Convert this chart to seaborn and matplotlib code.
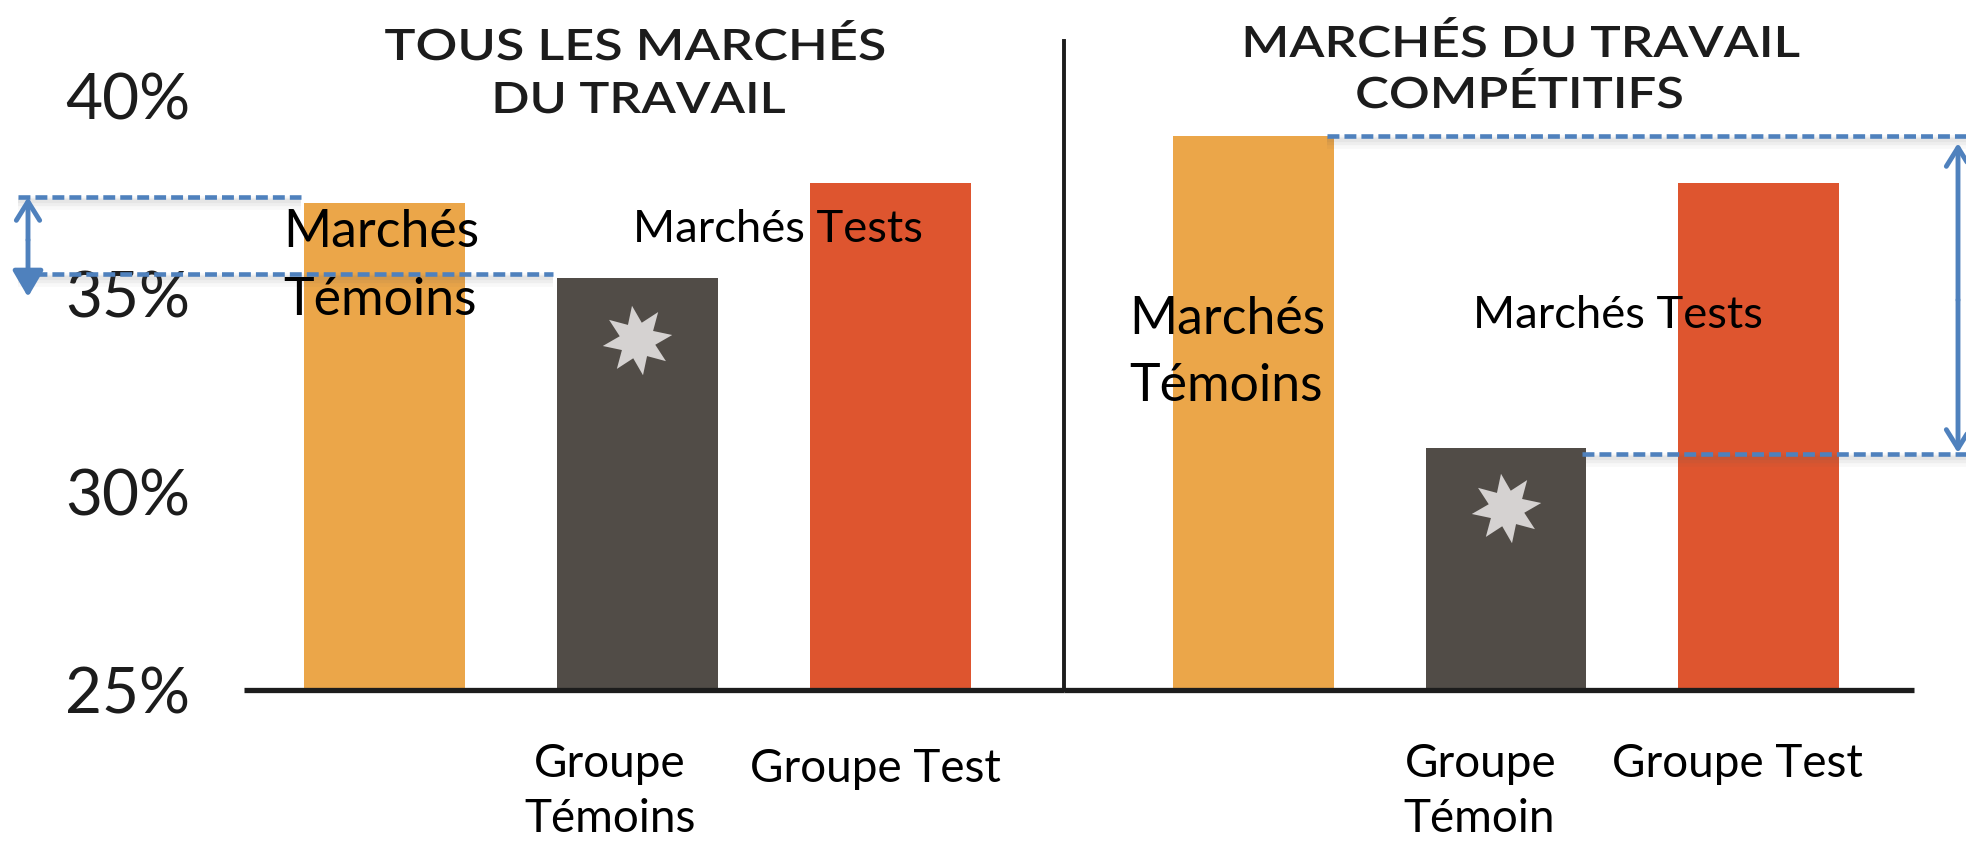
import matplotlib
matplotlib.use("Agg")
import matplotlib.pyplot as plt
from matplotlib.path import Path
from matplotlib.patheffects import AbstractPathEffect
from matplotlib.transforms import Affine2D
import pandas as pd
import seaborn as sns

# ---- data ----
groups = ["Marchés Témoins", "Groupe Témoins", "Groupe Test"]
values_all = [37.3, 35.4, 37.8]
values_comp = [39.0, 31.1, 37.8]
star_all = 33.85
star_comp = 29.6
y_ticks = [25, 30, 35, 40]
y_labels = ["25%", "30%", "35%", "40%"]
title_all = ["TOUS LES MARCHÉS", "DU TRAVAIL"]
title_comp = ["MARCHÉS DU TRAVAIL", "COMPÉTITIFS"]

ORANGE, DARK, RED = "#EBA649", "#514C47", "#DE552F"
BLUE, INK, STAR = "#4F81BD", "#1C1C1C", "#D5D2D1"

sns.set_theme(style="white")
plt.rcParams["font.family"] = ["Lato", "DejaVu Sans"]

W, H = 1966, 842
fig = plt.figure(figsize=(W / 100, H / 100), dpi=100, facecolor="white")


def px_axes(x0, x1, y0=0, y1=690):
    return fig.add_axes([x0 / W, 1 - y1 / H, (x1 - x0) / W, (y1 - y0) / H])


ax_l = px_axes(244, 1064)
ax_r = px_axes(1064, 1914)
palette = dict(zip(groups, [ORANGE, DARK, RED]))
star_path = Path.unit_regular_star(8, innerCircle=0.52).transformed(Affine2D().rotate_deg(9))

for ax, vals, star, xlim in [
    (ax_l, values_all, star_all, (-0.555, 2.686)),
    (ax_r, values_comp, star_comp, (-0.75, 2.616)),
]:
    df = pd.DataFrame({"g": groups, "v": vals})
    sns.barplot(data=df, x="g", y="v", hue="g", palette=palette, dodge=False,
                width=0.636, legend=False, ax=ax, saturation=1, linewidth=0)
    sns.scatterplot(x=[1], y=[star], marker=star_path, s=2500, color=STAR,
                    linewidth=0, ax=ax, zorder=5, legend=False)
    ax.set_xlim(*xlim)
    ax.set_ylim(25, 25 + 690 / 39.6)
    ax.set_xlabel("")
    ax.set_ylabel("")
    ax.set_xticks([])
    ax.patch.set_alpha(0)
    for s in ["top", "right"]:
        ax.spines[s].set_visible(False)
    ax.spines["bottom"].set_linewidth(3.8)
    ax.spines["bottom"].set_color(INK)
    ax.spines["bottom"].set_zorder(6)
    ax.spines["bottom"].set_capstyle("butt")

ax_l.spines["left"].set_visible(False)
ax_l.set_yticks(y_ticks)
ax_l.set_yticklabels(y_labels, fontsize=46, color=INK, ha="left")
ax_l.tick_params(axis="y", length=0, pad=129)

ax_r.set_yticks([])
ax_r.spines["left"].set_color(INK)
ax_r.spines["left"].set_linewidth(2.8)
ax_r.spines["left"].set_bounds(25, 25 + (690 - 41) / 39.6)

# overlay in image pixels for annotations
ov = fig.add_axes([0, 0, 1, 1], zorder=10)
ov.set_xlim(0, W)
ov.set_ylim(H, 0)
ov.axis("off")


def dashed(x0, x1, y):
    for off, lw, a in [(6, 10, 0.04), (5, 6, 0.06), (4, 3, 0.06)]:
        ov.plot([x0, x1], [y + off, y + off], color="#555555", lw=lw, alpha=a,
                solid_capstyle="butt")
    ov.plot([x0, x1], [y, y], color=BLUE, lw=3.3, dashes=(2.6, 1.1), dash_capstyle="butt")


dashed(18, 301, 196.5)
dashed(18, 553, 274)
dashed(1327, 1966, 136)
dashed(1582, 1966, 454)


def arrow(x, y0, y1, style):
    ov.annotate("", xy=(x, y1), xytext=(x, y0),
                arrowprops=dict(arrowstyle=style, color=BLUE, lw=3.5,
                                shrinkA=0, shrinkB=0, mutation_scale=30))


arrow(28, 240, 197, "->,head_length=0.45,head_width=0.28")
arrow(28, 240, 297, "-|>,head_length=0.53,head_width=0.31")
arrow(1958, 300, 143, "->,head_length=0.45,head_width=0.28")
arrow(1958, 300, 453, "->,head_length=0.45,head_width=0.28")


def lab(x, y, s, size):
    ov.text(x, y + 2, s, ha="center", va="baseline", fontsize=size, color="black")


BIG, MID, SMALL = 37.4, 32.7, 33
lab(381, 245, "Marchés", BIG)
lab(380, 313, "Témoins", BIG)
lab(778, 240, "Marchés Tests", MID)
lab(1227, 332, "Marchés", BIG)
lab(1226, 399, "Témoins", BIG)
lab(1618, 326, "Marchés Tests", MID)
lab(610, 775, "Groupe", SMALL)
lab(610, 830, "Témoins", SMALL)
lab(875, 780, "Groupe Test", SMALL)
lab(1481, 775, "Groupe", SMALL)
lab(1479, 830, "Témoin", SMALL)
lab(1737, 775, "Groupe Test", SMALL)


class StretchX(AbstractPathEffect):
    """Widen text about a vertical line, for the reference's wide-set capitals."""

    def __init__(self, sx, cx):
        super().__init__()
        self.sx, self.cx = sx, cx

    def draw_path(self, renderer, gc, tpath, affine, rgbFace=None):
        extra = Affine2D().translate(-self.cx, 0).scale(self.sx, 1).translate(self.cx, 0)
        renderer.draw_path(gc, tpath, affine + extra, rgbFace)


def title(x, y, s, sx):
    ov.text(x, y, s, ha="center", va="baseline", fontsize=31, color=INK, fontweight=600,
            path_effects=[StretchX(sx, x)])


title(635, 60, title_all[0], 1.21)
title(638, 113, title_all[1], 1.17)
title(1520, 57, title_comp[0], 1.19)
title(1519, 108, title_comp[1], 1.18)

fig.savefig("out.png", dpi=100)
